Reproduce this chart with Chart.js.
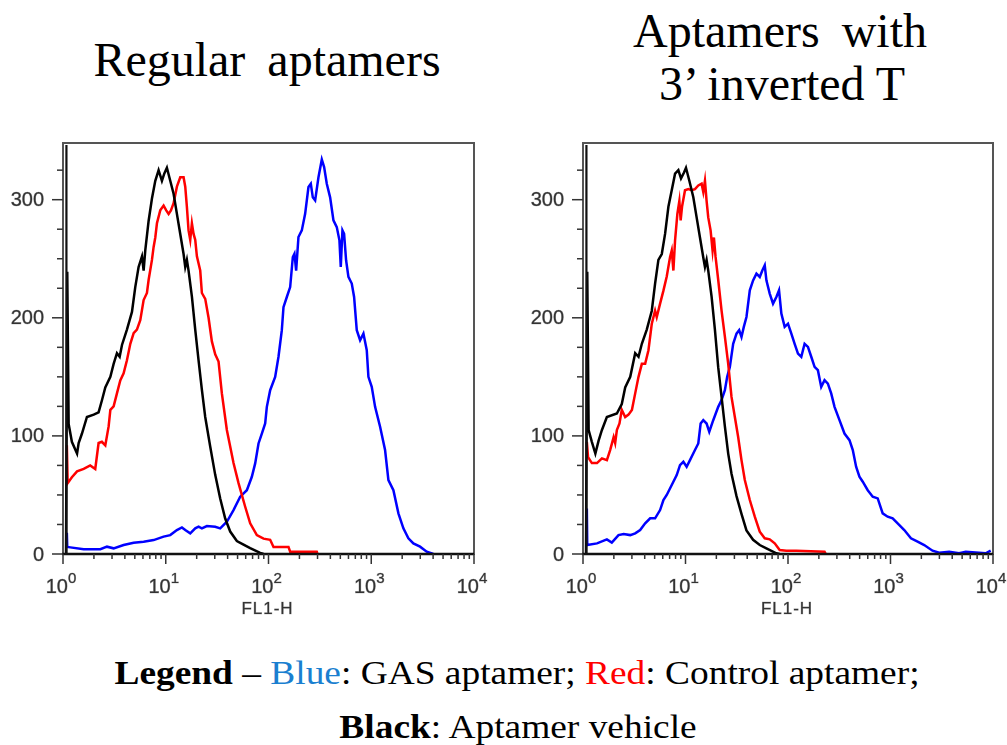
<!DOCTYPE html>
<html>
<head>
<meta charset="utf-8">
<script src="https://cdn.jsdelivr.net/npm/chart.js@4/dist/chart.umd.min.js"></script>
<style>
  body { margin: 0; width: 1007px; height: 745px; background: #fff; position: relative; overflow: hidden;
         font-family: "Liberation Serif", "Times New Roman", serif; color: #000; }
  .title { position: absolute; width: 500px; font-size: 48px; line-height: 48px; text-align: center; white-space: nowrap; word-spacing: 10px; }
  .legend { position: absolute; width: 1000px; font-size: 34px; line-height: 34px; text-align: center; white-space: nowrap; transform: scaleX(1.1); }
  canvas { position: absolute; top: 130px; }
</style>
</head>
<body>
<div class="title" style="left:17px; top:36px;">Regular aptamers</div>
<div class="title" style="left:530px; top:7px;">Aptamers with</div>
<div class="title" style="left:532px; top:60px; word-spacing:0;">3’ inverted T</div>

<canvas id="leftChart" width="500" height="500" style="left:0;"></canvas>
<canvas id="rightChart" width="487" height="500" style="left:520px;"></canvas>

<div class="legend" style="left:17px; top:656px;"><b>Legend</b> – <span style="color:#1a7fd0">Blue</span>: GAS aptamer; <span style="color:#ff0000">Red</span>: Control aptamer;</div>
<div class="legend" style="left:18px; top:710px;"><b>Black</b>: Aptamer vehicle</div>

<script>
/* FL1-H histograms: regular aptamers vs aptamers with 3' inverted T */

// [FL1-H, count]
const leftBlack = [[1.07,0],[1.10,239],[1.135,110],[1.22,95],[1.37,85],[1.42,94],[1.53,102],[1.71,116],[1.99,118],[2.22,120],[2.39,130],[2.58,141],[2.89,150],[3.11,161],[3.35,170],[3.56,167],[3.75,177],[4.19,190],[4.69,205],[5.05,226],[5.44,243],[5.87,252],[6.09,240],[6.32,257],[6.81,282],[7.34,301],[7.91,316],[8.52,325],[9.18,316],[9.67,322],[10.26,327],[11.06,316],[11.92,305],[12.84,288],[13.84,271],[14.91,254],[15.48,243],[16.06,249],[16.67,240],[17.97,218],[19.36,190],[20.86,164],[22.48,139],[24.22,116],[27.08,91],[30.30,67],[33.88,47],[37.90,30],[42.40,19],[49.21,11],[57.14,8],[66.32,5],[82.98,1],[89.41,0]];
const leftRed = [[1.09,92],[1.11,60],[1.22,65],[1.37,70],[1.59,72],[1.84,75],[2.06,72],[2.22,94],[2.39,95],[2.58,92],[2.78,108],[2.89,122],[3.11,125],[3.35,136],[3.61,147],[3.89,153],[4.19,164],[4.52,178],[4.87,187],[5.24,190],[5.65,198],[6.09,215],[6.56,221],[6.81,232],[7.34,249],[7.62,260],[7.91,268],[8.21,280],[8.84,291],[9.53,295],[10.11,291],[10.66,288],[11.23,291],[11.92,297],[12.84,311],[13.84,319],[14.91,319],[15.48,311],[16.06,294],[16.67,274],[17.31,266],[17.97,280],[18.65,271],[19.36,266],[20.10,252],[21.65,240],[22.48,221],[24.22,216],[26.10,200],[28.11,180],[30.30,169],[32.64,163],[35.17,136],[39.33,105],[45.66,77],[51.08,60],[59.31,40],[66.32,26],[77.0,16],[89.41,13],[103.8,12],[111.9,6],[156.5,6],[162.5,2],[295.1,2],[300,0]];
const leftBlue = [[1.09,18],[1.10,6],[1.18,5.6],[1.59,4],[2.31,4],[2.68,6.2],[3.11,4.8],[3.89,7.6],[4.87,9.6],[6.09,10.4],[7.62,11.8],[9.53,14.7],[11.06,16],[12.84,20.3],[14.36,22.5],[15.48,20.3],[17.31,17.5],[19.36,21.7],[20.86,23.1],[22.48,21.7],[25.13,23.7],[30.30,23.1],[33.88,21.7],[39.33,27.3],[45.66,37.2],[53.03,48.5],[61.56,54],[68.85,65.4],[74.19,76.7],[79.96,93.6],[86.14,102],[92.82,110.5],[96.34,124.6],[103.8,138.7],[116.1,150],[125.1,167],[134.8,189.5],[139.9,209],[150.8,217.6],[162.5,226],[172.5,251.5],[178.9,254.3],[185.8,240],[195.7,268.4],[210.9,274],[227.3,288],[244.9,310.7],[258.1,313.5],[269.9,302],[284.4,299.4],[306.4,319],[330.2,334],[347.8,327.6],[369.2,313.5],[397.9,302],[428.7,282.5],[461.8,276.8],[490.2,265.6],[505.1,243],[524.3,274],[544.2,271],[569.1,248.7],[599.7,234.6],[646.2,229],[680.9,217.6],[722.8,189.5],[778.9,181],[839.2,186.6],[904.2,172.5],[938.5,150],[1011,141.5],[1090,124.6],[1219,107.7],[1363,88],[1469,62.6],[1643,54],[1838,34.4],[2055,21.7],[2298,13.3],[2570,9],[2985,6.2],[3465,2],[4022,0]];

const rightBlack = [[1.07,0],[1.10,239],[1.135,105],[1.22,95],[1.32,85],[1.42,96],[1.53,105],[1.71,116],[2.14,119],[2.39,127],[2.58,141],[2.89,150],[3.23,170],[3.48,167],[3.75,178],[4.19,190],[4.69,206],[5.05,229],[5.44,249],[5.87,254],[6.32,271],[6.81,294],[7.34,308],[7.91,322],[8.52,325],[9.04,318],[9.67,323],[10.11,327],[10.90,316],[11.92,302],[12.84,285],[13.84,268],[14.91,251],[15.48,243],[16.06,249],[16.67,240],[17.97,218],[19.36,190],[20.86,158],[22.48,133],[24.22,108],[26.10,85],[28.11,68],[31.45,49],[35.17,34],[39.33,20],[45.66,12],[53.03,7.6],[61.56,4.8],[77.0,0.6],[82.98,0]];
const rightRed = [[1.09,95],[1.12,82],[1.22,77],[1.37,77],[1.53,81],[1.71,79.5],[1.84,88],[1.99,99],[2.06,94],[2.14,105],[2.27,110.5],[2.39,122],[2.58,116],[2.78,118],[3.00,122],[3.23,136],[3.48,150],[3.75,161],[4.04,161],[4.35,172.5],[4.69,195],[5.05,206],[5.24,200.5],[5.65,212],[6.09,223],[6.56,235],[7.07,251.5],[7.34,257],[7.62,240],[7.91,265.6],[8.33,288],[8.71,299],[8.97,282.5],[9.25,294],[9.89,308],[10.66,309],[11.48,308],[12.37,309],[13.33,312],[14.36,313.5],[14.91,306.5],[15.48,316],[16.06,299],[16.67,285],[17.57,274],[18.37,257],[18.93,268],[19.65,251.5],[20.86,232],[22.48,206],[24.22,184],[26.10,161],[28.11,133],[30.30,116],[32.64,99],[35.17,79.5],[37.90,62.6],[42.40,45.7],[47.41,31.6],[53.03,18.9],[59.31,13.3],[66.32,12.4],[74.19,9],[82.98,3.4],[96.34,2.8],[120.5,2.8],[227.3,2],[233.8,0]];
const rightBlue = [[1.09,38.6],[1.10,7.6],[1.37,9],[1.71,12.4],[1.91,9.6],[2.22,16],[2.49,17],[2.89,16],[3.23,17.5],[3.61,20.3],[4.04,26],[4.52,30.2],[5.05,30.2],[5.65,37.2],[6.09,45.7],[6.56,50],[7.34,58.4],[8.21,66.8],[8.84,75.3],[9.53,78.1],[10.26,73.9],[11.06,79.5],[12.37,88],[13.33,93.6],[14.05,110.5],[14.91,113.3],[16.06,110.5],[17.06,103.5],[18.65,113.3],[20.86,124.6],[22.48,130.3],[24.22,138.7],[25.51,150],[27.08,158.4],[29.18,178],[31.45,186.6],[33.38,189.5],[35.17,183.8],[37.06,192.3],[39.33,200.7],[42.40,223.3],[45.66,231.7],[49.21,237.4],[53.03,234.6],[56.29,240.2],[59.31,244.4],[61.56,231.7],[66.32,220.5],[71.47,212],[77.0,217.6],[81.75,223.3],[86.14,203.6],[92.82,192.3],[100,195],[107.8,186.6],[116.1,178],[125.1,169.7],[134.8,167],[145.2,178],[156.5,175.4],[168.6,167],[181.7,158.4],[195.7,155.6],[210.9,141.5],[227.3,147.2],[244.9,144.3],[263.9,136],[284.4,124.6],[317.9,113.3],[355.7,102],[397.9,96.4],[428.7,88],[461.8,73.9],[497.6,65.4],[536.2,61.2],[599.7,54],[670.8,48.5],[750.3,47.1],[839.2,34.4],[938.5,31.6],[1050,30.2],[1174,26],[1363,20.3],[1583,13.3],[1838,10.4],[2133,7.6],[2570,2.8],[2985,1.1],[3734,2],[4670,0.6],[5423,2],[8485,0.6],[9491,2.8]];

// axes
const xMin = 1, xMax = 10000, yMax = 348;
const xDecades = [1, 10, 100, 1000, 10000];
const xExponents = ['0', '1', '2', '3', '4'];
const yMajor = [0, 100, 200, 300];
const yMinor = [25, 50, 75, 125, 150, 175, 225, 250, 275, 325];
const edgeChannel = 1.08;   // off-scale first channel line along the left edge

const AXIS = '#333';
const SANS = '"Liberation Sans", Arial, sans-serif';

function seg(ctx, x1, y1, x2, y2) {
  ctx.beginPath(); ctx.moveTo(x1, y1); ctx.lineTo(x2, y2); ctx.stroke();
}

// soft, slightly heavy text like the scanned original
function label(ctx, text, x, y) {
  ctx.strokeStyle = 'rgba(51,51,51,0.45)';
  ctx.lineWidth = 0.7;
  ctx.strokeText(text, x, y);
  ctx.fillText(text, x, y);
}

// frame, tick marks and labels drawn like the cytometer software does
const cytoAxes = {
  id: 'cytoAxes',
  afterDraw(chart) {
    const { ctx, chartArea: a, scales: { x, y } } = chart;
    ctx.save();

    ctx.strokeStyle = '#555'; ctx.lineWidth = 2;
    ctx.strokeRect(a.left, a.top, a.right - a.left, a.bottom - a.top);
    ctx.strokeStyle = '#111'; ctx.lineWidth = 2.4;
    seg(ctx, a.left - 1, a.bottom, a.right, a.bottom);
    const ex = x.getPixelForValue(edgeChannel);
    ctx.lineWidth = 2.2;
    seg(ctx, ex, a.top + 2, ex, a.bottom);

    // y ticks + labels
    ctx.strokeStyle = AXIS; ctx.lineWidth = 1.5;
    yMinor.forEach((v) => { const py = y.getPixelForValue(v); seg(ctx, a.left - 6, py, a.left, py); });
    ctx.fillStyle = AXIS;
    ctx.font = '20px ' + SANS;
    ctx.textAlign = 'right'; ctx.textBaseline = 'middle';
    yMajor.forEach((v) => {
      const py = y.getPixelForValue(v);
      ctx.strokeStyle = AXIS; ctx.lineWidth = 1.5;
      seg(ctx, a.left - 11, py, a.left, py);
      label(ctx, String(v), a.left - 19, py + 1);
    });

    // x ticks: decades long, 2..9 short
    ctx.strokeStyle = AXIS; ctx.lineWidth = 1.5;
    for (let d = 0; d < xDecades.length - 1; d++) {
      for (let m = 2; m <= 9; m++) {
        const px = x.getPixelForValue(xDecades[d] * m);
        seg(ctx, px, a.bottom, px, a.bottom + 5);
      }
    }
    ctx.textAlign = 'left'; ctx.textBaseline = 'alphabetic';
    xDecades.forEach((v, i) => {
      const px = x.getPixelForValue(v);
      ctx.strokeStyle = AXIS; ctx.lineWidth = 1.5;
      seg(ctx, px, a.bottom, px, a.bottom + 10);
      ctx.font = '20px ' + SANS;
      const w1 = ctx.measureText('10').width;
      ctx.font = '15px ' + SANS;
      const w2 = ctx.measureText(xExponents[i]).width;
      const x0 = px - (w1 + w2) / 2 - 2;
      ctx.font = '20px ' + SANS;
      label(ctx, '10', x0, a.bottom + 39);
      ctx.font = '15px ' + SANS;
      label(ctx, xExponents[i], x0 + w1, a.bottom + 29);
    });

    ctx.font = '17px ' + SANS;
    ctx.textAlign = 'center';
    if ('letterSpacing' in ctx) ctx.letterSpacing = '1px';
    label(ctx, 'FL1-H', (a.left + a.right) / 2 - 1, a.bottom + 60);
    ctx.restore();
  },
};

function series(points, color) {
  return {
    data: points.map(([x, y]) => ({ x, y })),
    borderColor: color, borderWidth: 2.5, pointRadius: 0, tension: 0, fill: false,
  };
}

function histogram(id, black, red, blue, padRight) {
  return new Chart(document.getElementById(id), {
    type: 'line',
    data: { datasets: [series(black, '#000000'), series(red, '#ff0000'), series(blue, '#0000ff')] },
    options: {
      responsive: false, animation: false,
      layout: { padding: { left: 63, right: padRight, top: 13, bottom: 76 } },
      plugins: { legend: { display: false }, tooltip: { enabled: false } },
      scales: {
        x: { type: 'logarithmic', min: xMin, max: xMax, display: false },
        y: { type: 'linear', min: 0, max: yMax, display: false },
      },
    },
    plugins: [cytoAxes],
  });
}

histogram('leftChart', leftBlack, leftRed, leftBlue, 26);
histogram('rightChart', rightBlack, rightRed, rightBlue, 14);
</script>
</body>
</html>
